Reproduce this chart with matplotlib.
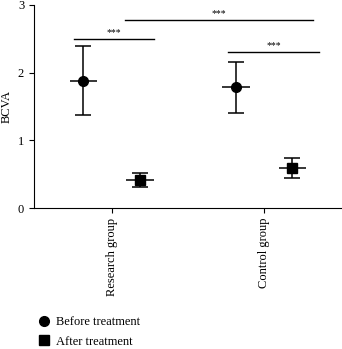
import numpy as np
import matplotlib.pyplot as plt

plt.rcParams['font.family'] = ['Liberation Serif', 'DejaVu Serif']

groups = ['Research group', 'Control group']
before_mean = [1.87, 1.78]
before_lo = [1.37, 1.40]
before_hi = [2.39, 2.15]
after_mean = [0.41, 0.59]
after_lo = [0.31, 0.44]
after_hi = [0.51, 0.74]

# significance brackets: (x start, x end, height, label)
sig_lines = [(-0.25, 0.28, 2.50, '***'),
             (0.09, 1.32, 2.78, '***'),
             (0.76, 1.36, 2.30, '***')]

fig = plt.figure(figsize=(3.42, 3.49), dpi=100)
ax = fig.add_axes([0.099, 0.404, 0.901, 0.582])

pos = np.arange(len(groups))
off = 0.185
half = 0.09

bm = np.array(before_mean)
am = np.array(after_mean)
ax.errorbar(pos - off, bm, yerr=[bm - np.array(before_lo), np.array(before_hi) - bm],
            fmt='o', color='black', ms=7, capsize=6, elinewidth=1.1, capthick=1.1,
            label='Before treatment')
ax.errorbar(pos + off, am, yerr=[am - np.array(after_lo), np.array(after_hi) - am],
            fmt='s', color='black', ms=6.5, capsize=6, elinewidth=1.1, capthick=1.1,
            label='After treatment')
ax.hlines(bm, pos - off - half, pos - off + half, color='black', lw=1.1)
ax.hlines(am, pos + off - half, pos + off + half, color='black', lw=1.1)

for x0, x1, h, lab in sig_lines:
    ax.plot([x0, x1], [h, h], color='black', lw=1.0)
    ax.text((x0 + x1) / 2, h + 0.03, lab, ha='center', va='bottom', fontsize=7)

ax.set_xlim(-0.51, 1.51)
ax.set_ylim(0, 3)
ax.set_yticks([0, 1, 2, 3])
ax.set_xticks(pos)
ax.set_xticklabels(groups, rotation=90, fontsize=9)
ax.tick_params(axis='y', labelsize=9)
ax.set_ylabel('BCVA', fontsize=9)
ax.spines['top'].set_visible(False)
ax.spines['right'].set_visible(False)

handles, labels = ax.get_legend_handles_labels()
handles = [h[0] for h in handles]
fig.legend(handles, labels, loc='lower left', bbox_to_anchor=(0.075, -0.028), frameon=False,
           fontsize=9, handletextpad=0.3, handlelength=1.2, labelspacing=0.6)

fig.savefig('out.png', dpi=100)
